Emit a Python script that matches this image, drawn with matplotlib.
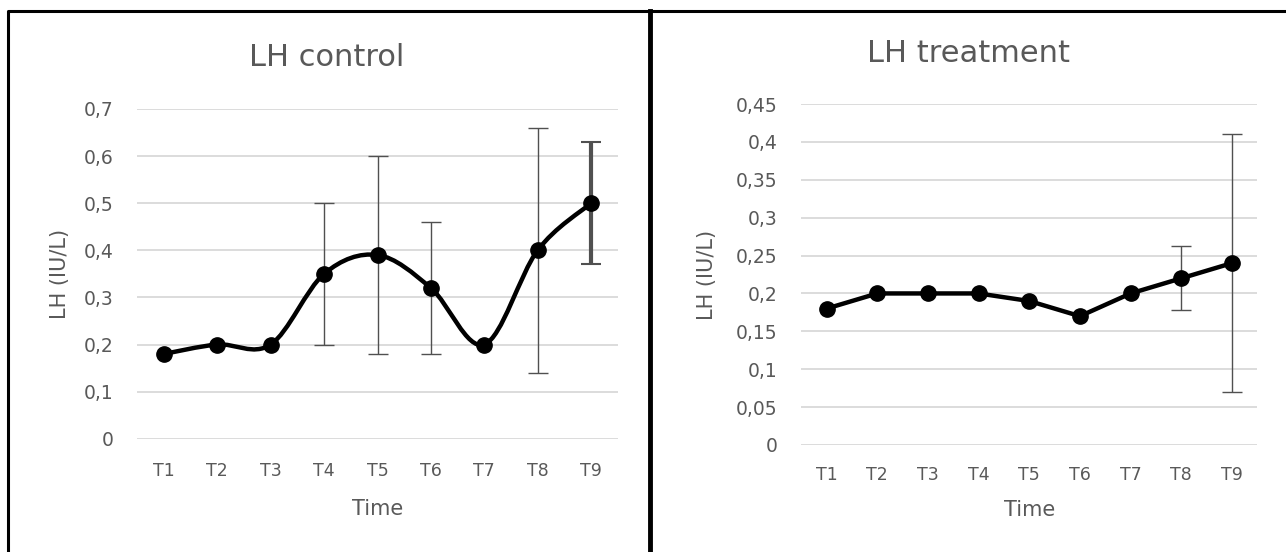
import matplotlib
matplotlib.use("Agg")
import matplotlib.pyplot as plt
from matplotlib.path import Path
from matplotlib.patches import PathPatch
from matplotlib.lines import Line2D
import numpy as np

plt.rcParams['font.family'] = ['DejaVu Sans']

times = ["T1", "T2", "T3", "T4", "T5", "T6", "T7", "T8", "T9"]

# LH control
control = [0.18, 0.20, 0.20, 0.35, 0.39, 0.32, 0.20, 0.40, 0.50]
control_err = [0, 0, 0, 0.15, 0.21, 0.14, 0, 0.26, 0.13]
control_ticks = [0, 0.1, 0.2, 0.3, 0.4, 0.5, 0.6, 0.7]

# LH treatment
treatment = [0.18, 0.20, 0.20, 0.20, 0.19, 0.17, 0.20, 0.22, 0.24]
treatment_err = [0, 0, 0, 0, 0, 0, 0, 0.042, 0.17]
treatment_ticks = [0, 0.05, 0.1, 0.15, 0.2, 0.25, 0.3, 0.35, 0.4, 0.45]

text_col = "#595959"
grid_col = "#d9d9d9"
W, H = 1286.0, 552.0


def comma(v):
    return ("%g" % v).replace(".", ",")


def smooth_path(xs, ys):
    # Excel style smoothed line: bezier segments, catmull-rom control points
    xs = np.asarray(xs, float)
    ys = np.asarray(ys, float)
    n = len(xs)
    verts = [(xs[0], ys[0])]
    codes = [Path.MOVETO]
    for i in range(n - 1):
        p0 = (xs[max(i - 1, 0)], ys[max(i - 1, 0)])
        p1 = (xs[i], ys[i])
        p2 = (xs[i + 1], ys[i + 1])
        p3 = (xs[min(i + 2, n - 1)], ys[min(i + 2, n - 1)])
        c1 = (p1[0] + (p2[0] - p0[0]) / 6, p1[1] + (p2[1] - p0[1]) / 6)
        c2 = (p2[0] - (p3[0] - p1[0]) / 6, p2[1] - (p3[1] - p1[1]) / 6)
        verts += [c1, c2, p2]
        codes += [Path.CURVE4] * 3
    return Path(verts, codes)


def style_axes(ax, ticks, xpad, time_y, ylab_x):
    ax.set_xlim(0.5, 9.5)
    ax.set_ylim(ticks[0], ticks[-1])
    ax.set_yticks(ticks)
    ax.set_yticklabels([comma(t) for t in ticks])
    ax.set_xticks(range(1, 10))
    ax.set_xticklabels(times)
    for s in ax.spines.values():
        s.set_visible(False)
    ax.yaxis.grid(True, color=grid_col, linewidth=1.3)
    ax.set_axisbelow(True)
    ax.tick_params(length=0, colors=text_col)
    ax.tick_params(axis="x", labelsize=12.5, pad=xpad)
    ax.tick_params(axis="y", labelsize=13.5, pad=17)
    ax.set_xlabel("Time", fontsize=15, color=text_col, va="center")
    ax.set_ylabel("LH (IU/L)", fontsize=15, color=text_col, va="center")
    # place axis titles in pixel positions of the reference
    x0, y0, w, h = ax.get_position().bounds
    ax.xaxis.set_label_coords(0.5, ((1 - time_y / H) - y0) / h)
    ax.yaxis.set_label_coords((ylab_x / W - x0) / w, 0.5)


fig = plt.figure(figsize=(12.86, 5.52), dpi=100)
x = np.arange(1, 10)

ax1 = fig.add_axes([137.3 / W, 1 - 438.7 / H, 480.4 / W, 329.7 / H])
ax1.add_patch(PathPatch(smooth_path(x, control), facecolor="none",
                        edgecolor="black", linewidth=3.2, zorder=3))
ax1.plot(x, control, "o", color="black", markersize=11, zorder=4)
for i in range(9):
    if control_err[i] > 0:
        lw = 3 if i == 8 else 1.0
        ax1.errorbar(x[i], control[i], yerr=control_err[i], fmt="none",
                     ecolor="#505050", elinewidth=lw, capsize=7,
                     capthick=1.5 if i == 8 else 1.0, zorder=2)
style_axes(ax1, control_ticks, 17, 509, 60)

ax2 = fig.add_axes([801.3 / W, 1 - 445 / H, 456 / W, 341 / H])
ax2.plot(x, treatment, "-o", color="black", linewidth=3.2, markersize=11,
         zorder=3)
for i in range(9):
    if treatment_err[i] > 0:
        ax2.errorbar(x[i], treatment[i], yerr=treatment_err[i], fmt="none",
                     ecolor="#505050", elinewidth=1.0, capsize=7, zorder=2)
style_axes(ax2, treatment_ticks, 15, 510, 707)

fig.text(327 / W, 1 - 57 / H, "LH control", fontsize=22, color=text_col,
         ha="center", va="center")
fig.text(968 / W, 1 - 54 / H, "LH treatment", fontsize=22, color=text_col,
         ha="center", va="center")


# panel borders
def fline(xs, ys, lw=2.2):
    fig.add_artist(Line2D([v / W for v in xs], [1 - v / H for v in ys],
                          color="black", linewidth=lw))


fline([7.5, 7.5, W + 5], [H + 5, 10.5, 10.5])
fline([649.5, 649.5], [10.5, H + 5], lw=3.5)

fig.savefig("out.png", dpi=100)
